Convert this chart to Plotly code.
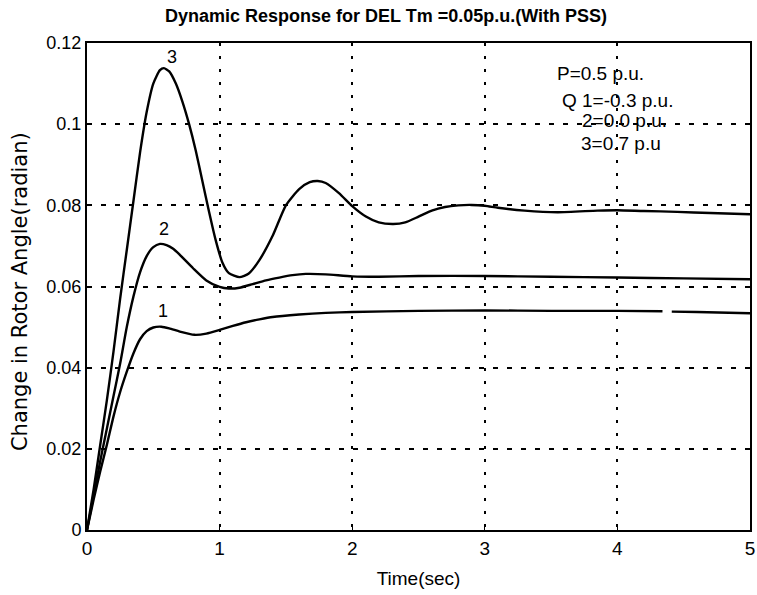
import plotly.graph_objects as go

# ---- data ----
t3 = [0, 0.05, 0.1, 0.15, 0.2, 0.25, 0.3, 0.35, 0.4, 0.45, 0.5, 0.55, 0.58, 0.62, 0.67, 0.72, 0.77,
      0.82, 0.87, 0.92, 0.97, 1.02, 1.07, 1.15, 1.22, 1.3, 1.4, 1.5, 1.6, 1.68, 1.74, 1.8, 1.9, 2.0,
      2.1, 2.2, 2.31, 2.4, 2.5, 2.6, 2.7, 2.8, 2.9, 3.0, 3.1, 3.3, 3.55, 3.85, 4.0, 4.2, 4.45, 4.7, 5.0]
y3 = [0, 0.010, 0.021, 0.032, 0.044, 0.057, 0.069, 0.081, 0.093, 0.103, 0.110, 0.1133, 0.1138, 0.1130,
      0.1100, 0.1055, 0.1000, 0.0935, 0.0860, 0.0785, 0.0715, 0.0660, 0.0633, 0.0623, 0.0632, 0.0665,
      0.0725, 0.0800, 0.0840, 0.0857, 0.0860, 0.0855, 0.0830, 0.0798, 0.0773, 0.0758, 0.0754, 0.0758,
      0.0772, 0.0787, 0.0796, 0.0800, 0.0801, 0.0799, 0.0794, 0.0787, 0.0783, 0.0787, 0.0788, 0.0786,
      0.0784, 0.0781, 0.0778]

t2 = [0, 0.05, 0.1, 0.15, 0.2, 0.25, 0.3, 0.35, 0.4, 0.45, 0.5, 0.55, 0.6, 0.65, 0.7, 0.8, 0.9, 1.0,
      1.07, 1.15, 1.25, 1.35, 1.45, 1.55, 1.65, 1.8, 2.0, 2.2, 2.5, 3.0, 3.5, 4.0, 4.5, 5.0]
y2 = [0, 0.0085, 0.017, 0.025, 0.033, 0.041, 0.050, 0.0575, 0.0635, 0.0675, 0.0697, 0.0705, 0.0702,
      0.0693, 0.0678, 0.0645, 0.0615, 0.0599, 0.0595, 0.0597, 0.0606, 0.0615, 0.0622, 0.0628, 0.0631,
      0.0630, 0.0625, 0.0624, 0.0626, 0.0626, 0.0624, 0.0622, 0.0620, 0.0618]

t1 = [0, 0.05, 0.1, 0.15, 0.2, 0.25, 0.3, 0.35, 0.4, 0.45, 0.5, 0.56, 0.62, 0.7, 0.81, 0.9, 1.0, 1.1,
      1.2, 1.3, 1.4, 1.6, 1.8, 2.0, 2.5, 3.0, 3.5, 4.0, 4.34, 4.37, 4.41, 4.6, 5.0]
y1 = [0, 0.0075, 0.0145, 0.021, 0.028, 0.034, 0.039, 0.0435, 0.0470, 0.0490, 0.0499, 0.0501, 0.0497,
      0.0489, 0.0481, 0.0484, 0.0493, 0.0503, 0.0512, 0.0519, 0.0525, 0.0531, 0.0535, 0.0537, 0.0540,
      0.0541, 0.0540, 0.0540, 0.0539, None, 0.0538, 0.0537, 0.0534]

curve_labels = ["1", "2", "3"]
label_t = [0.57, 0.58, 0.64]
label_y = [0.0540, 0.0742, 0.1166]

legend_lines = ["P=0.5 p.u.", "Q 1=-0.3 p.u.", "2=0.0 p.u.", "3=0.7 p.u"]
legend_t = [3.87, 4.0, 4.05, 4.03]
legend_y = [0.1125, 0.1058, 0.1009, 0.0953]

x_ticks = [0, 1, 2, 3, 4, 5]
y_ticks = [0, 0.02, 0.04, 0.06, 0.08, 0.1, 0.12]
y_tick_text = ["0", "0.02", "0.04", "0.06", "0.08", "0.1", "0.12"]

FONT = "Liberation Sans, Arial, sans-serif"

fig = go.Figure()
for tx, ty in [(t1, y1), (t2, y2), (t3, y3)]:
    fig.add_trace(go.Scatter(x=tx, y=ty, mode="lines", connectgaps=False,
                             line=dict(color="black", width=2.4, shape="spline", smoothing=0.6),
                             showlegend=False, hoverinfo="skip"))

for txt, xx, yy in zip(curve_labels, label_t, label_y):
    fig.add_annotation(x=xx, y=yy, text=txt, showarrow=False,
                       font=dict(size=18, color="black", family=FONT))

for txt, xx, yy in zip(legend_lines, legend_t, legend_y):
    fig.add_annotation(x=xx, y=yy, text=txt, showarrow=False,
                       font=dict(size=19, color="black", family=FONT))

# y axis title placed as rotated text
fig.add_annotation(x=-0.1, y=0.49, xref="paper", yref="paper", text="Change in Rotor Angle(radian)",
                   textangle=-90, showarrow=False, xanchor="center", yanchor="middle",
                   font=dict(size=21, color="black", family="DejaVu Sans, Verdana, sans-serif"))

fig.update_layout(
    width=757, height=595,
    margin=dict(l=87, r=2, t=43, b=65),
    paper_bgcolor="white", plot_bgcolor="white",
    font=dict(family=FONT, color="black"),
    title=dict(text="<b>Dynamic Response for DEL Tm =0.05p.u.(With PSS)</b>",
               x=0.51, xanchor="center", y=0.974, yanchor="middle", xref="container", yref="container",
               font=dict(size=18, color="black", family=FONT)),
)
fig.update_xaxes(range=[0, 5], tickvals=x_ticks, ticks="inside", ticklen=5, tickcolor="black",
                 showline=True, linecolor="black", linewidth=2, mirror=True,
                 showgrid=True, gridcolor="black", gridwidth=1.5, griddash="3px,10px",
                 zeroline=False, tickfont=dict(size=19), ticklabeloverflow="allow",
                 title=dict(text="Time(sec)", font=dict(size=19), standoff=14))
fig.update_yaxes(range=[0, 0.12], tickvals=y_ticks, ticktext=y_tick_text, ticks="inside", ticklen=5,
                 tickcolor="black",
                 showline=True, linecolor="black", linewidth=2, mirror=True,
                 showgrid=True, gridcolor="black", gridwidth=1.5, griddash="5px,9px",
                 zeroline=False, tickfont=dict(size=18), ticklabeloverflow="allow")

fig.write_html("out.html")
